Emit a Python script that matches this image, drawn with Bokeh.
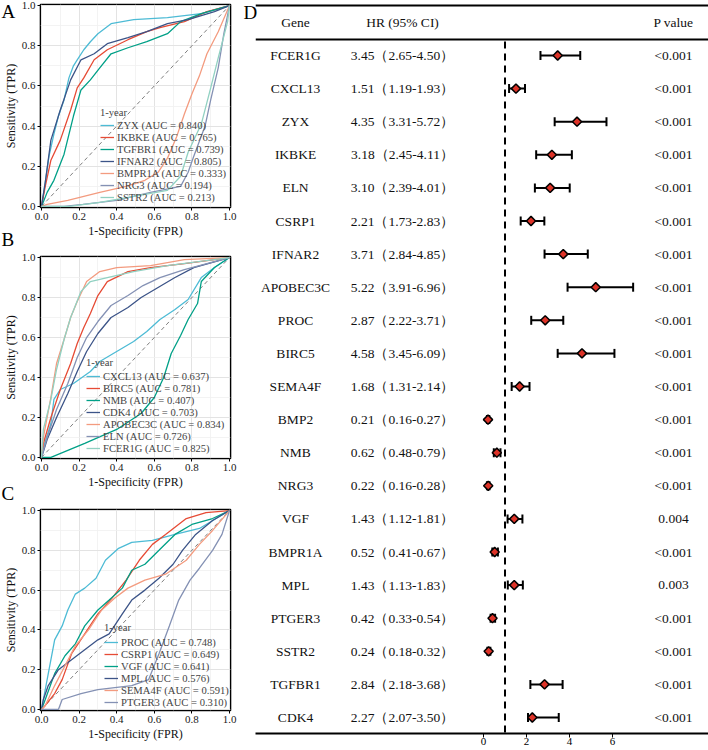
import numpy as np
from bokeh.plotting import figure
from bokeh.layouts import row, column
from bokeh.models import (Range1d, Legend, LegendItem, Span, Whisker, Title,
                          ColumnDataSource, FixedTicker, TeeHead, NumeralTickFormatter)
from bokeh.embed import file_html
from bokeh.resources import INLINE
from bokeh.core.properties import value

SERIF = "Liberation Serif"
CYAN, RED, GREEN, NAVY, SALMON, GREYBLUE, TEAL = (
    "#4DBBD5", "#E64B35", "#00A087", "#3C5488", "#F39B7F", "#8491B4", "#91D1C2")

# ---------------- Panel A ROC data ----------------
zyx_fpr = [0, 0.02, 0.04, 0.066, 0.09, 0.12, 0.146, 0.17, 0.19, 0.225, 0.26, 0.30, 0.37, 0.49, 0.67, 0.85, 1.0]
zyx_tpr = [0, 0.12, 0.25, 0.36, 0.45, 0.53, 0.64, 0.70, 0.73, 0.78, 0.82, 0.86, 0.91, 0.93, 0.94, 0.96, 1.0]
ikbke_fpr = [0, 0.02, 0.05, 0.10, 0.155, 0.19, 0.225, 0.28, 0.35, 0.46, 0.56, 0.63, 0.76, 0.88, 1.0]
ikbke_tpr = [0, 0.10, 0.23, 0.33, 0.48, 0.59, 0.64, 0.73, 0.78, 0.83, 0.87, 0.89, 0.92, 0.97, 1.0]
tgfbr1_fpr = [0, 0.03, 0.066, 0.12, 0.17, 0.21, 0.26, 0.31, 0.37, 0.46, 0.56, 0.67, 0.74, 0.85, 1.0]
tgfbr1_tpr = [0, 0.07, 0.13, 0.26, 0.45, 0.58, 0.63, 0.69, 0.76, 0.79, 0.82, 0.86, 0.92, 0.96, 1.0]
ifnar2_fpr = [0, 0.02, 0.05, 0.10, 0.155, 0.21, 0.28, 0.35, 0.46, 0.56, 0.67, 0.78, 0.92, 1.0]
ifnar2_tpr = [0, 0.12, 0.33, 0.48, 0.63, 0.73, 0.76, 0.81, 0.84, 0.87, 0.91, 0.93, 0.97, 1.0]
bmpr1a_fpr = [0, 0.03, 0.14, 0.31, 0.45, 0.55, 0.62, 0.67, 0.72, 0.76, 0.80, 0.84, 0.88, 0.94, 1.0]
bmpr1a_tpr = [0, 0.01, 0.03, 0.07, 0.10, 0.13, 0.17, 0.24, 0.35, 0.46, 0.56, 0.65, 0.76, 0.87, 1.0]
nrg3_fpr = [0, 0.12, 0.22, 0.40, 0.58, 0.74, 0.78, 0.81, 0.87, 0.90, 0.94, 0.97, 1.0]
nrg3_tpr = [0, 0.0, 0.01, 0.03, 0.07, 0.10, 0.17, 0.25, 0.40, 0.53, 0.69, 0.86, 1.0]
sstr2_fpr = [0, 0.15, 0.31, 0.49, 0.67, 0.74, 0.78, 0.85, 0.90, 0.94, 0.99, 1.0]
sstr2_tpr = [0, 0.0, 0.02, 0.05, 0.08, 0.15, 0.27, 0.41, 0.59, 0.74, 0.92, 1.0]
a_genes = ["ZYX", "IKBKE", "TGFBR1", "IFNAR2", "BMPR1A", "NRG3", "SSTR2"]
a_auc = [0.840, 0.765, 0.739, 0.805, 0.333, 0.194, 0.213]

# ---------------- Panel B ROC data ----------------
cxcl13_fpr = [0, 0.01, 0.05, 0.066, 0.10, 0.17, 0.26, 0.31, 0.40, 0.49, 0.56, 0.63, 0.71, 0.78, 0.85, 0.92, 1.0]
cxcl13_tpr = [0, 0.05, 0.17, 0.29, 0.34, 0.37, 0.43, 0.48, 0.53, 0.58, 0.63, 0.69, 0.74, 0.79, 0.90, 0.95, 1.0]
birc5_fpr = [0, 0.01, 0.05, 0.10, 0.155, 0.19, 0.225, 0.26, 0.30, 0.35, 0.46, 0.58, 0.76, 1.0]
birc5_tpr = [0, 0.07, 0.20, 0.34, 0.47, 0.57, 0.65, 0.72, 0.81, 0.88, 0.93, 0.95, 0.97, 1.0]
nmb_fpr = [0, 0.05, 0.23, 0.40, 0.53, 0.60, 0.65, 0.69, 0.74, 0.78, 0.83, 0.85, 0.92, 1.0]
nmb_tpr = [0, 0.0, 0.07, 0.14, 0.22, 0.30, 0.40, 0.52, 0.61, 0.69, 0.77, 0.88, 0.95, 1.0]
cdk4_fpr = [0, 0.03, 0.08, 0.14, 0.19, 0.24, 0.30, 0.37, 0.46, 0.53, 0.62, 0.71, 0.81, 1.0]
cdk4_tpr = [0, 0.09, 0.20, 0.32, 0.43, 0.53, 0.62, 0.70, 0.75, 0.80, 0.85, 0.90, 0.95, 1.0]
apobec3c_fpr = [0, 0.01, 0.05, 0.08, 0.12, 0.155, 0.19, 0.24, 0.31, 0.40, 0.58, 0.76, 1.0]
apobec3c_tpr = [0, 0.10, 0.30, 0.47, 0.59, 0.70, 0.78, 0.88, 0.93, 0.95, 0.96, 0.99, 1.0]
eln_fpr = [0, 0.03, 0.08, 0.14, 0.19, 0.24, 0.30, 0.37, 0.46, 0.54, 0.63, 0.76, 1.0]
eln_tpr = [0, 0.10, 0.24, 0.37, 0.50, 0.60, 0.68, 0.76, 0.81, 0.86, 0.90, 0.94, 1.0]
fcer1g_fpr = [0, 0.01, 0.05, 0.08, 0.12, 0.155, 0.21, 0.26, 0.35, 0.49, 0.67, 1.0]
fcer1g_tpr = [0, 0.14, 0.29, 0.44, 0.59, 0.70, 0.83, 0.88, 0.90, 0.93, 0.96, 1.0]
b_genes = ["CXCL13", "BIRC5", "NMB", "CDK4", "APOBEC3C", "ELN", "FCER1G"]
b_auc = [0.637, 0.781, 0.407, 0.703, 0.834, 0.726, 0.825]

# ---------------- Panel C ROC data ----------------
proc_fpr = [0, 0.01, 0.036, 0.07, 0.11, 0.14, 0.18, 0.23, 0.29, 0.34, 0.41, 0.48, 0.59, 0.71, 0.84, 1.0]
proc_tpr = [0, 0.05, 0.18, 0.35, 0.42, 0.50, 0.58, 0.61, 0.66, 0.75, 0.81, 0.84, 0.85, 0.88, 0.91, 1.0]
csrp1_fpr = [0, 0.02, 0.07, 0.11, 0.16, 0.23, 0.30, 0.375, 0.45, 0.52, 0.59, 0.66, 0.77, 0.875, 1.0]
csrp1_tpr = [0, 0.02, 0.08, 0.15, 0.28, 0.38, 0.48, 0.56, 0.65, 0.75, 0.83, 0.88, 0.96, 0.99, 1.0]
vgf_fpr = [0, 0.02, 0.07, 0.125, 0.18, 0.23, 0.30, 0.36, 0.43, 0.48, 0.55, 0.625, 0.71, 0.80, 0.91, 1.0]
vgf_tpr = [0, 0.05, 0.18, 0.27, 0.33, 0.42, 0.50, 0.55, 0.61, 0.70, 0.73, 0.80, 0.88, 0.93, 0.96, 1.0]
mpl_fpr = [0, 0.01, 0.036, 0.09, 0.16, 0.23, 0.30, 0.36, 0.43, 0.48, 0.55, 0.625, 0.70, 0.75, 0.82, 0.91, 1.0]
mpl_tpr = [0, 0.05, 0.12, 0.20, 0.25, 0.30, 0.35, 0.38, 0.48, 0.55, 0.60, 0.66, 0.73, 0.80, 0.88, 0.95, 1.0]
sema4f_fpr = [0, 0.02, 0.07, 0.125, 0.18, 0.25, 0.32, 0.39, 0.46, 0.55, 0.66, 0.77, 0.84, 0.91, 1.0]
sema4f_tpr = [0, 0.02, 0.12, 0.22, 0.32, 0.40, 0.50, 0.56, 0.61, 0.65, 0.68, 0.75, 0.83, 0.90, 1.0]
ptger3_fpr = [0, 0.09, 0.11, 0.21, 0.30, 0.48, 0.57, 0.625, 0.68, 0.73, 0.79, 0.84, 0.91, 0.96, 1.0]
ptger3_tpr = [0, 0.0, 0.05, 0.08, 0.10, 0.12, 0.15, 0.28, 0.42, 0.55, 0.65, 0.71, 0.80, 0.88, 1.0]
c_genes = ["PROC", "CSRP1", "VGF", "MPL", "SEMA4F", "PTGER3"]
c_auc = [0.748, 0.649, 0.641, 0.576, 0.591, 0.310]

# ---------------- Panel D forest data ----------------
d_genes = ["FCER1G", "CXCL13", "ZYX", "IKBKE", "ELN", "CSRP1", "IFNAR2", "APOBEC3C", "PROC",
           "BIRC5", "SEMA4F", "BMP2", "NMB", "NRG3", "VGF", "BMPR1A", "MPL", "PTGER3",
           "SSTR2", "TGFBR1", "CDK4"]
d_hr = [3.45, 1.51, 4.35, 3.18, 3.10, 2.21, 3.71, 5.22, 2.87, 4.58, 1.68, 0.21, 0.62, 0.22,
        1.43, 0.52, 1.43, 0.42, 0.24, 2.84, 2.27]
d_lo = [2.65, 1.19, 3.31, 2.45, 2.39, 1.73, 2.84, 3.91, 2.22, 3.45, 1.31, 0.16, 0.48, 0.16,
        1.12, 0.41, 1.13, 0.33, 0.18, 2.18, 2.07]
d_hi = [4.50, 1.93, 5.72, 4.11, 4.01, 2.83, 4.85, 6.96, 3.71, 6.09, 2.14, 0.27, 0.79, 0.28,
        1.81, 0.67, 1.83, 0.54, 0.32, 3.68, 3.50]
d_p = ["<0.001"] * 14 + ["0.004", "<0.001", "0.003", "<0.001", "<0.001", "<0.001", "<0.001"]
d_ticks = [0, 2, 4, 6]

# ---------------- ROC panels ----------------
FW = 190
LB = 40          # left border
RB = 13          # right border
XPAD = 1 / 188


def letter(text, side_offset, standoff, valign):
    return Title(text=text, align="left", offset=side_offset, standoff=standoff,
                 vertical_align=valign, text_font=SERIF, text_font_size="19px",
                 text_font_style="normal", text_color="black")


def roc_panel(fprs, tprs, genes, aucs, colors, fh, top, bottom, leg_x, leg_y,
              title_standoff, above=None, below=None):
    p = figure(frame_width=FW, frame_height=fh,
               x_range=Range1d(-XPAD, 1 + XPAD), y_range=Range1d(-XPAD, 1 + XPAD),
               output_backend="svg", toolbar_location=None,
               min_border_left=LB, min_border_right=RB,
               min_border_top=top, min_border_bottom=bottom)
    p.background_fill_color = "white"
    p.border_fill_color = "white"
    p.outline_line_color = "black"
    p.outline_line_width = 1.6
    for ax in (p.xaxis[0], p.yaxis[0]):
        ax.ticker = FixedTicker(ticks=[0, 0.2, 0.4, 0.6, 0.8, 1.0],
                                minor_ticks=[0.1, 0.3, 0.5, 0.7, 0.9])
        ax.formatter = NumeralTickFormatter(format="0.0")
        ax.axis_line_color = None
        ax.major_tick_line_color = "black"
        ax.major_tick_out = 3
        ax.major_tick_in = 0
        ax.minor_tick_line_color = None
        ax.major_label_text_font = SERIF
        ax.major_label_text_font_size = "11px"
        ax.major_label_text_color = "#1a1a1a"
        ax.major_label_standoff = 1
        ax.axis_label_text_font = SERIF
        ax.axis_label_text_font_size = "12px"
        ax.axis_label_text_font_style = "normal"
        ax.axis_label_text_color = "#111111"
        ax.axis_label_standoff = 1
    p.xaxis.axis_label = "1-Specificity (FPR)"
    p.yaxis.axis_label = "Sensitivity (TPR)"
    p.grid.grid_line_color = "#E3E3E3"
    p.grid.grid_line_width = 1
    p.grid.minor_grid_line_color = "#F0F0F0"
    p.grid.minor_grid_line_width = 0.8

    p.line([0, 1], [0, 1], line_color="#7F7F7F", line_dash="4 3", line_width=1)
    items = []
    for fx, ty, g, a, c in zip(fprs, tprs, genes, aucs, colors):
        r = p.line(fx, ty, line_color=c, line_width=1.3)
        items.append(LegendItem(label=f"{g} (AUC = {a:.3f})", renderers=[r]))
    leg = Legend(items=items, location=(leg_x, leg_y), title="1-year",
                 title_text_font=SERIF, title_text_font_size="10.6px",
                 title_text_font_style="normal", title_standoff=title_standoff,
                 label_text_font=SERIF, label_text_font_size="10.6px",
                 glyph_width=14, glyph_height=12, label_height=12,
                 label_standoff=3, spacing=0, padding=0, margin=0,
                 background_fill_alpha=0, border_line_color=None)
    p.add_layout(leg)
    if above:
        # text bottom placed at frame_top - standoff/2
        p.add_layout(letter(above, -LB + 1, -34, "bottom"), "above")
    if below:
        p.add_layout(letter(below[0], -LB + 1, below[1], "top"), "below")
    return p


pA = roc_panel([zyx_fpr, ikbke_fpr, tgfbr1_fpr, ifnar2_fpr, bmpr1a_fpr, nrg3_fpr, sstr2_fpr],
               [zyx_tpr, ikbke_tpr, tgfbr1_tpr, ifnar2_tpr, bmpr1a_tpr, nrg3_tpr, sstr2_tpr],
               a_genes, a_auc, [CYAN, RED, GREEN, NAVY, SALMON, GREYBLUE, TEAL],
               fh=203, top=4, bottom=41, leg_x=60, leg_y=4, title_standoff=1,
               above="A", below=("B", -24))
pB = roc_panel([cxcl13_fpr, birc5_fpr, nmb_fpr, cdk4_fpr, apobec3c_fpr, eln_fpr, fcer1g_fpr],
               [cxcl13_tpr, birc5_tpr, nmb_tpr, cdk4_tpr, apobec3c_tpr, eln_tpr, fcer1g_tpr],
               b_genes, b_auc, [CYAN, RED, GREEN, NAVY, SALMON, GREYBLUE, TEAL],
               fh=202, top=8, bottom=45, leg_x=46, leg_y=4, title_standoff=2,
               below=("C", -18))
pC = roc_panel([proc_fpr, csrp1_fpr, vgf_fpr, mpl_fpr, sema4f_fpr, ptger3_fpr],
               [proc_tpr, csrp1_tpr, vgf_tpr, mpl_tpr, sema4f_tpr, ptger3_tpr],
               c_genes, c_auc, [CYAN, RED, GREEN, NAVY, SALMON, GREYBLUE],
               fh=201, top=6, bottom=40, leg_x=64, leg_y=2, title_standoff=3)

# ---------------- Forest panel ----------------
DFW, DFH = 453, 731
D_TOP = 2
D_LB = 12
X0PX = 228.0      # px from frame left where HR=0
PPU = 21.5        # px per HR unit
ROW0 = 53.0       # px from frame top of first row
ROWH = 33.1       # px per row

xr = Range1d(-X0PX / PPU, (DFW - X0PX) / PPU)
yr = Range1d((DFH - ROW0) / ROWH, -ROW0 / ROWH)
pD = figure(frame_width=DFW, frame_height=DFH, x_range=xr, y_range=yr,
            output_backend="svg", toolbar_location=None, y_axis_location=None,
            min_border_left=D_LB, min_border_right=0, min_border_top=D_TOP,
            min_border_bottom=16)
pD.outline_line_color = None
pD.grid.visible = False
pD.background_fill_color = "white"
pD.border_fill_color = "white"
ax = pD.xaxis[0]
ax.ticker = FixedTicker(ticks=d_ticks)
ax.axis_line_color = "black"
ax.axis_line_width = 2
ax.major_tick_line_color = "black"
ax.major_tick_out = 4
ax.major_tick_in = 0
ax.minor_tick_line_color = None
ax.major_label_text_font = SERIF
ax.major_label_text_font_size = "11px"
ax.major_label_text_color = "black"
ax.major_label_standoff = 0

rows = list(range(len(d_genes)))
hr_txt = [f"{h:.2f}（{l:.2f}-{u:.2f}）" for h, l, u in zip(d_hr, d_lo, d_hi)]
src = ColumnDataSource(dict(row=rows, gene=d_genes, hr=d_hr, lo=d_lo, hi=d_hi,
                            hrtxt=hr_txt, p=d_p))

GENE_X = (40 - X0PX) / PPU
HR_X = (147 - X0PX) / PPU
P_X = (418 - X0PX) / PPU
HEAD_Y = (20 - ROW0) / ROWH
LINE1_Y = (3 - ROW0) / ROWH
LINE2_Y = (37 - ROW0) / ROWH

pD.add_layout(Span(location=LINE1_Y, dimension="width", line_color="black", line_width=2))
pD.add_layout(Span(location=LINE2_Y, dimension="width", line_color="black", line_width=2))

tkw = dict(text_font=value(SERIF), text_font_size="13.5px", text_color="#111111",
           text_baseline="middle", text_align="center")
pD.text(x=[GENE_X, HR_X, P_X], y=[HEAD_Y] * 3, text=["Gene", "HR (95% CI)", "P value"], **tkw)
pD.text(x=GENE_X, y="row", text="gene", source=src, **tkw)
pD.text(x=HR_X, y="row", text="hrtxt", source=src, **tkw)
pD.text(x=P_X, y="row", text="p", source=src, **tkw)

pD.segment(x0=1, y0=LINE2_Y + 0.06, x1=1, y1=yr.start, line_color="black",
           line_width=2, line_dash="7 5")
pD.add_layout(Whisker(base="row", lower="lo", upper="hi", dimension="width", source=src,
                      line_color="black", line_width=2,
                      lower_head=TeeHead(size=9, line_width=2, line_color="black"),
                      upper_head=TeeHead(size=9, line_width=2, line_color="black")))
pD.scatter(x="hr", y="row", source=src, marker="square", angle=np.pi / 4, size=6.5,
           fill_color="#DD3328", line_color="black", line_width=1.5)
pD.add_layout(letter("D", -D_LB, -40, "bottom"), "above")

layout = row(column(pA, pB, pC), pD)
open("out.html", "w").write(file_html(layout, INLINE))
